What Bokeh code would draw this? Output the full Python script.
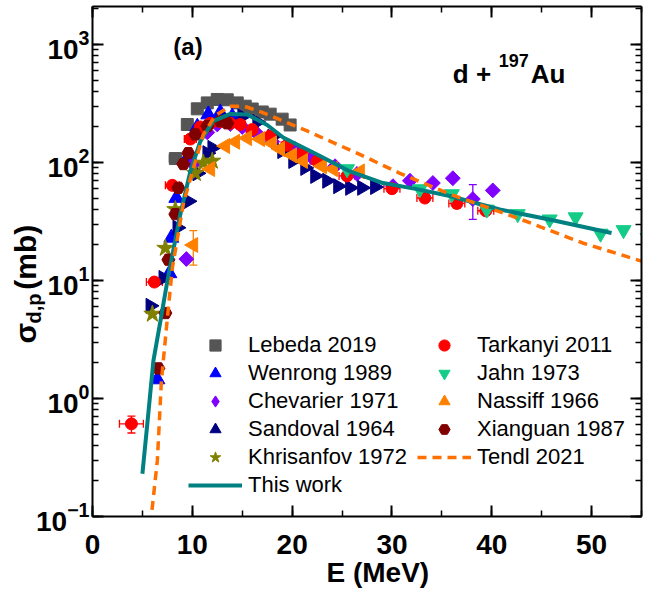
import numpy as np
from bokeh.plotting import figure
from bokeh.models import (Range1d, LinearAxis, LogAxis, SingleIntervalTicker, LogTicker,
                          Legend, LegendItem, Label, Whisker, ColumnDataSource, TeeHead,
                          CustomJSTickFormatter, Title)
from bokeh.embed import file_html
from bokeh.resources import INLINE

# ---------------- data ----------------
lebeda_E = [8.3, 9.5, 10.5, 11.5, 12.5, 13.5, 14.5, 15.3, 16.0, 17.0, 17.8, 19.0, 19.8]
lebeda_S = [108, 210, 285, 320, 342, 340, 320, 300, 284, 268, 257, 233, 208]
lebeda_dE = [0.6, 0.5, 0.5, 0.4, 0.4, 0.4, 0.4, 0.4, 0.4, 0.4, 0.4, 0.4, 0.4]

tarkanyi_E = [3.9, 6.2, 8.0, 9.8, 10.8, 11.8, 12.8, 13.8, 14.8, 16.0, 17.8, 19.5, 21.0, 22.5, 25.5, 30.0, 33.3, 36.5, 39.4]
tarkanyi_S = [0.61, 9.7, 64, 158, 200, 215, 222, 215, 210, 190, 168, 140, 118, 103, 77, 60, 50, 45, 39]
tarkanyi_dE = [1.2, 0.8, 0.7, 0.6, 0.5, 0.5, 0.5, 0.5, 0.5, 0.6, 0.6, 0.6, 0.7, 0.7, 0.8, 0.8, 0.8, 0.8, 0.8]
tarkanyi_dS = [0.1, 0.8, 5, 12, 15, 16, 16, 16, 16, 14, 12, 10, 9, 8, 6, 5, 4, 4, 3]

wenrong_E = [6.5, 7.7, 7.9, 8.4, 9.5, 10.5, 11.6, 12.8, 14.0]
wenrong_S = [1.45, 11.5, 23, 50, 110, 200, 255, 265, 245]

chevarier_E = [9.4, 10.1, 11.5, 12.5, 13.8, 15.0, 16.5, 18.0, 20.3, 22.0, 24.3, 26.5, 30.1, 31.8, 34.1, 36.1, 38.1, 40.1]
chevarier_S = [15.2, 97, 180, 210, 212, 200, 175, 150, 130, 110, 93, 80, 63, 70, 67, 73.6, 49, 58]
chevarier_dS = [0, 0, 0, 0, 0, 0, 0, 0, 0, 0, 0, 0, 0, 0, 0, 0, 16, 0]

sandoval_E = [5.8, 7.1, 8.5, 9.6, 10.5, 11.5, 12.0, 13.5, 15.0, 16.5, 18.0, 19.0, 20.1, 21.3, 22.3, 23.5, 24.6, 25.8, 27.0, 28.3]
sandoval_S = [6.1, 10.5, 28, 47, 81, 120, 133, 230, 245, 220, 165, 125, 103, 90, 77, 70, 63, 61, 61, 62]

khrisanfov_E = [6.0, 7.3, 8.3, 10.3, 11.1, 12.0]
khrisanfov_S = [5.2, 18.8, 40, 81, 99, 103]

jahn_E = [25.5, 32.8, 36.0, 39.5, 42.6, 45.8, 48.4, 50.9, 53.2, 55.6]
jahn_S = [88, 59.5, 54, 40, 36.6, 33, 34.4, 25, 26.8, 23]

nassiff_E = [10.1, 11.8, 13.3, 14.3, 15.5, 16.8, 18.0, 18.8, 20.0, 21.1, 23.0, 24.1, 26.8]
nassiff_S = [20, 88, 138, 150, 161, 158, 145, 130, 115, 103, 93, 88, 84]
nassiff_dS = [6.5, 0, 0, 0, 0, 0, 0, 0, 0, 0, 0, 0, 0]

xianguan_E = [6.6, 7.3, 7.6, 8.3, 8.6, 9.1, 9.6, 10.3, 11.5, 12.8, 13.5]
xianguan_S = [1.8, 5.3, 15, 36.5, 61, 97, 120, 173, 203, 224, 215]

thiswork_E = [5.0, 5.5, 6.1, 6.8, 7.5, 8.2, 8.8, 9.8, 10.8, 12.1, 13.8, 15.5, 17.5, 19.1, 22.5, 25.8, 29.1, 32.5, 35.8, 40.8, 46.0, 52.0]
thiswork_S = [0.23, 0.62, 2.08, 4.5, 9.9, 20, 36.5, 84, 151, 224, 258, 255, 208, 163, 117, 84, 67, 59.5, 52, 40, 32.6, 25.3]

tendl_E = [5.8, 6.5, 6.9, 7.5, 8.0, 9.1, 10.1, 11.1, 12.3, 13.8, 15.2, 16.8, 21.5, 26.5, 30.8, 35.8, 42.5, 49.1, 55.0]
tendl_S = [0.085, 0.3, 1.4, 4.8, 12.8, 44.5, 89.5, 172, 250, 300, 300, 270, 185, 120, 81, 54, 34, 20.8, 14.6]

# ---------------- figure ----------------
FONT = "Liberation Sans"
p = figure(width=646, height=600, x_range=Range1d(0, 55), y_range=Range1d(0.1, 2099),
           y_axis_type="log", output_backend="svg", toolbar_location=None,
           min_border_left=92, min_border_right=5, min_border_top=6, min_border_bottom=84,
           background_fill_color="white", border_fill_color="white")
p.outline_line_color = None
p.xgrid.visible = False
p.ygrid.visible = False


def style_axis(ax, labels=True):
    ax.axis_line_width = 2
    ax.axis_line_color = "black"
    ax.major_tick_in = 11
    ax.major_tick_out = 0
    ax.minor_tick_in = 6
    ax.minor_tick_out = 0
    ax.major_tick_line_width = 2
    ax.minor_tick_line_width = 1.5
    ax.major_tick_line_color = "black"
    ax.minor_tick_line_color = "black"
    if labels:
        ax.major_label_text_font = FONT
        ax.major_label_text_font_style = "bold"
        ax.major_label_text_font_size = "28px"
        ax.major_label_text_color = "black"
    else:
        ax.formatter = CustomJSTickFormatter(code="return ''")
        ax.major_label_text_font_size = "1px"
        ax.major_label_standoff = 0


p.xaxis.ticker = SingleIntervalTicker(interval=10, num_minor_ticks=2)
p.yaxis.ticker = LogTicker(num_minor_ticks=10)
style_axis(p.xaxis[0])
style_axis(p.yaxis[0])
p.xaxis.major_label_standoff = 18
p.yaxis.major_label_standoff = 3

top = LinearAxis(ticker=SingleIntervalTicker(interval=10, num_minor_ticks=2))
style_axis(top, labels=False)
p.add_layout(top, "above")
right = LogAxis(ticker=LogTicker(num_minor_ticks=10))
style_axis(right, labels=False)
p.add_layout(right, "right")

# axis titles as side-panel titles (not clipped by the frame)
p.add_layout(Title(text="E (MeV)", align="left", offset=234, vertical_align="top", standoff=0,
                   text_font=FONT, text_font_size="28px", text_font_style="bold",
                   text_color="black"), "below")
# subscript (inner column) and main symbol/unit (outer column)
p.add_layout(Title(text="d,p", align="left", offset=193, vertical_align="bottom", standoff=-23,
                   text_font=FONT, text_font_size="20px", text_font_style="bold",
                   text_color="black"), "left")
p.add_layout(Title(text="σ\u00a0\u00a0\u00a0\u00a0(mb)", align="left", offset=173,
                   vertical_align="bottom", standoff=-18,
                   text_font=FONT, text_font_size="30px", text_font_style="bold",
                   text_color="black"), "left")


def whisker(base, center, err, dim, color):
    pairs = [(b, c, e) for b, c, e in zip(base, center, err) if e > 0]
    src = ColumnDataSource(dict(base=[a[0] for a in pairs],
                                lower=[a[1] - a[2] for a in pairs],
                                upper=[a[1] + a[2] for a in pairs]))
    w = Whisker(source=src, base="base", lower="lower", upper="upper", dimension=dim,
                line_color=color, line_width=1.3,
                upper_head=TeeHead(size=8, line_color=color, line_width=1.3),
                lower_head=TeeHead(size=8, line_color=color, line_width=1.3))
    p.add_layout(w)


whisker(lebeda_S, lebeda_E, lebeda_dE, "width", "#555555")
whisker(tarkanyi_S, tarkanyi_E, tarkanyi_dE, "width", "#FF0000")
whisker(tarkanyi_E, tarkanyi_S, tarkanyi_dS, "height", "#FF0000")
whisker(chevarier_E, chevarier_S, chevarier_dS, "height", "#8000FF")
whisker(nassiff_E, nassiff_S, nassiff_dS, "height", "#FF8000")

r_leb = p.scatter(lebeda_E, lebeda_S, marker="square", size=12, color="#555555")
r_wen = p.scatter(wenrong_E, wenrong_S, marker="triangle", size=15, color="#0000FF")
# small diamonds (give the legend its diamond key), covered by squares turned 45 degrees
r_che = p.scatter(chevarier_E, chevarier_S, marker="diamond", size=8, color="#8000FF")
p.scatter(chevarier_E, chevarier_S, marker="square", size=10.5, angle=np.pi / 4, color="#8000FF")
r_san = p.scatter(sandoval_E, sandoval_S, marker="triangle", size=15, angle=-np.pi / 2, color="#000080")
r_khr = p.scatter(khrisanfov_E, khrisanfov_S, marker="star", size=18, color="#808000")
r_tar = p.scatter(tarkanyi_E, tarkanyi_S, marker="circle", size=12, color="#FF0000")
r_jah = p.scatter(jahn_E, jahn_S, marker="inverted_triangle", size=15, color="#14CC88")
r_nas = p.scatter(nassiff_E, nassiff_S, marker="triangle", size=15, angle=np.pi / 2, color="#FF8000")
r_xia = p.scatter(xianguan_E, xianguan_S, marker="hex", size=13, color="#800000")
r_tw = p.line(thiswork_E, thiswork_S, line_color="#008080", line_width=4)
r_ten = p.line(tendl_E, tendl_S, line_color="#FF7000", line_width=3.5, line_dash="9 6")

legend_style = dict(background_fill_alpha=0, border_line_alpha=0, padding=0, margin=0,
                    spacing=0, glyph_height=28, glyph_width=54, label_standoff=6,
                    label_height=28, label_text_font=FONT, label_text_font_size="22px",
                    label_text_color="black")
leg1 = Legend(items=[LegendItem(label="Lebeda 2019", renderers=[r_leb]),
                     LegendItem(label="Wenrong 1989", renderers=[r_wen]),
                     LegendItem(label="Chevarier 1971", renderers=[r_che]),
                     LegendItem(label="Sandoval 1964", renderers=[r_san]),
                     LegendItem(label="Khrisanfov 1972", renderers=[r_khr]),
                     LegendItem(label="This work", renderers=[r_tw])],
              location=(96, 17), **legend_style)
leg2 = Legend(items=[LegendItem(label="Tarkanyi 2011", renderers=[r_tar]),
                     LegendItem(label="Jahn 1973", renderers=[r_jah]),
                     LegendItem(label="Nassiff 1966", renderers=[r_nas]),
                     LegendItem(label="Xianguan 1987", renderers=[r_xia]),
                     LegendItem(label="Tendl 2021", renderers=[r_ten])],
              location=(325, 45), **legend_style)
p.add_layout(leg1, "center")
p.add_layout(leg2, "center")


def lab(x, y, text, size, style="bold"):
    p.add_layout(Label(x=x, y=y, text=text, text_font=FONT, text_font_size=size,
                       text_font_style=style, text_color="black",
                       text_align="left", text_baseline="alphabetic"))


# annotations inside the frame (data space)
lab(8.1, 970, "(a)", "24px")
lab(36.1, 562, "d +", "26px")
lab(40.7, 728, "197", "18px")
lab(43.9, 562, "Au", "26px")

open("out.html", "w").write(file_html(p, INLINE))
